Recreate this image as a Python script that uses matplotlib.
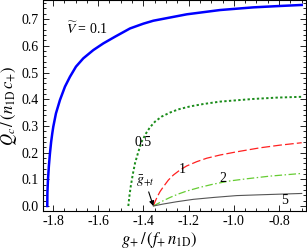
import matplotlib
matplotlib.use('Agg')
import matplotlib.pyplot as plt
from matplotlib.ticker import MultipleLocator

# values
g_v01 = [-1.8251, -1.8245, -1.8221, -1.8180, -1.8133, -1.8080, -1.8030, -1.7985, -1.7867, -1.7690,
         -1.7469, -1.7248, -1.6982, -1.6659, -1.6215, -1.5773, -1.5257, -1.4593, -1.4000,
         -1.3560, -1.2080, -1.0610, -0.9140, -0.8000, -0.7000]
q_v01 = [0.0, 0.050, 0.097, 0.150, 0.197, 0.240, 0.272, 0.297, 0.347, 0.397,
         0.447, 0.484, 0.522, 0.553, 0.584, 0.609, 0.634, 0.665, 0.683,
         0.694, 0.718, 0.734, 0.744, 0.749, 0.753]

g_v05 = [-1.4667, -1.4622, -1.4563, -1.4475, -1.4372, -1.4224, -1.4077, -1.3885, -1.3708, -1.3487,
         -1.3192, -1.2823, -1.2454, -1.1938, -1.1348, -1.0611, -0.9873, -0.9136, -0.8103, -0.7000]
q_v05 = [0.0, 0.035, 0.072, 0.116, 0.160, 0.203, 0.241, 0.272, 0.295, 0.316,
         0.335, 0.350, 0.362, 0.373, 0.382, 0.391, 0.396, 0.401, 0.406, 0.409]

g_v1 = [-1.3560, -1.3487, -1.3384, -1.3265, -1.3118, -1.2897, -1.2676, -1.2381, -1.2086, -1.1643,
        -1.1200, -1.0611, -0.9873, -0.8841, -0.7956, -0.7000]
q_v1 = [0.0, 0.016, 0.035, 0.054, 0.072, 0.097, 0.116, 0.135, 0.150, 0.166,
        0.179, 0.191, 0.203, 0.218, 0.228, 0.237]

g_v2 = [-1.3560, -1.3340, -1.3118, -1.2823, -1.2454, -1.2086, -1.1496, -1.0906, -1.0168, -0.9430,
        -0.8398, -0.7000]
q_v2 = [0.0, 0.010, 0.020, 0.032, 0.045, 0.056, 0.070, 0.082, 0.094, 0.102,
        0.112, 0.122]

g_v5 = [-1.3560, -1.3118, -1.2528, -1.1790, -1.0906, -0.9873, -0.8841, -0.7000]
q_v5 = [0.0, 0.0075, 0.016, 0.025, 0.032, 0.039, 0.042, 0.047]

g_threshold = -1.356

plt.rcParams['font.family'] = ['Liberation Serif', 'DejaVu Serif']
plt.rcParams['mathtext.fontset'] = 'stix'
plt.rcParams['axes.unicode_minus'] = False

fig = plt.figure(figsize=(3.07, 2.49), dpi=100)
ax = fig.add_axes([43 / 307, 38 / 249, 263 / 307, 210.5 / 249])

ax.plot(g_v01, q_v01, color='#0000ff', lw=1.8, solid_joinstyle='round')
ax.plot(g_v05, q_v05, color='#1a8c1a', lw=1.4, ls=(0, (1.2, 1.2)))
ax.plot(g_v1, q_v1, color='#ff2020', lw=0.9, ls=(0, (7, 2.5)))
ax.plot(g_v2, q_v2, color='#66cc33', lw=0.9, ls=(0, (6, 2, 1.2, 2)))
ax.plot(g_v5, q_v5, color='#555555', lw=0.8)

fs = 10
ax.text(-1.651, 0.662, r'$\widetilde{V}$ = 0.1', fontsize=fs, ha='center', va='center')
ax.text(-1.40, 0.237, '0.5', fontsize=fs, ha='center', va='center')
ax.text(-1.230, 0.137, '1', fontsize=fs, ha='center', va='center')
ax.text(-1.049, 0.104, '2', fontsize=fs, ha='center', va='center')
ax.text(-0.778, 0.020, '5', fontsize=fs, ha='center', va='center')
ax.annotate(r'$\bar{g}_{+t}$', xy=(g_threshold, 0.0), xytext=(-1.392, 0.092),
            fontsize=10, ha='center', va='center',
            arrowprops=dict(arrowstyle='-|>', color='black', lw=0.8,
                            mutation_scale=7, shrinkA=0, shrinkB=0))

ax.set_xlim(-1.844, -0.681)
ax.set_ylim(-0.0187, 0.7697)
ax.xaxis.set_major_locator(MultipleLocator(0.2))
ax.xaxis.set_minor_locator(MultipleLocator(0.05))
ax.yaxis.set_major_locator(MultipleLocator(0.1))
ax.yaxis.set_minor_locator(MultipleLocator(0.02))
ax.xaxis.set_major_formatter(plt.FuncFormatter(lambda v, p: f'{v:.1f}'))
ax.yaxis.set_major_formatter(plt.FuncFormatter(lambda v, p: f'{v:.1f}'))
ax.tick_params(which='both', direction='in', top=True, right=True, labelsize=fs, width=0.6)
ax.tick_params(which='major', length=4, pad=3)
ax.tick_params(which='minor', length=2)
for s in ax.spines.values():
    s.set_linewidth(0.8)

ax.set_ylabel(r'$Q_c\,/\,(n_{\mathrm{1D}}\,c_{+})$', fontsize=12, labelpad=2)
ax.set_xlabel(r'$g_{+}\,/\,(f_{+}\,n_{\mathrm{1D}})$', fontsize=12)
ax.xaxis.set_label_coords(116 / 263, -0.09)

fig.savefig('out.png', dpi=100)
